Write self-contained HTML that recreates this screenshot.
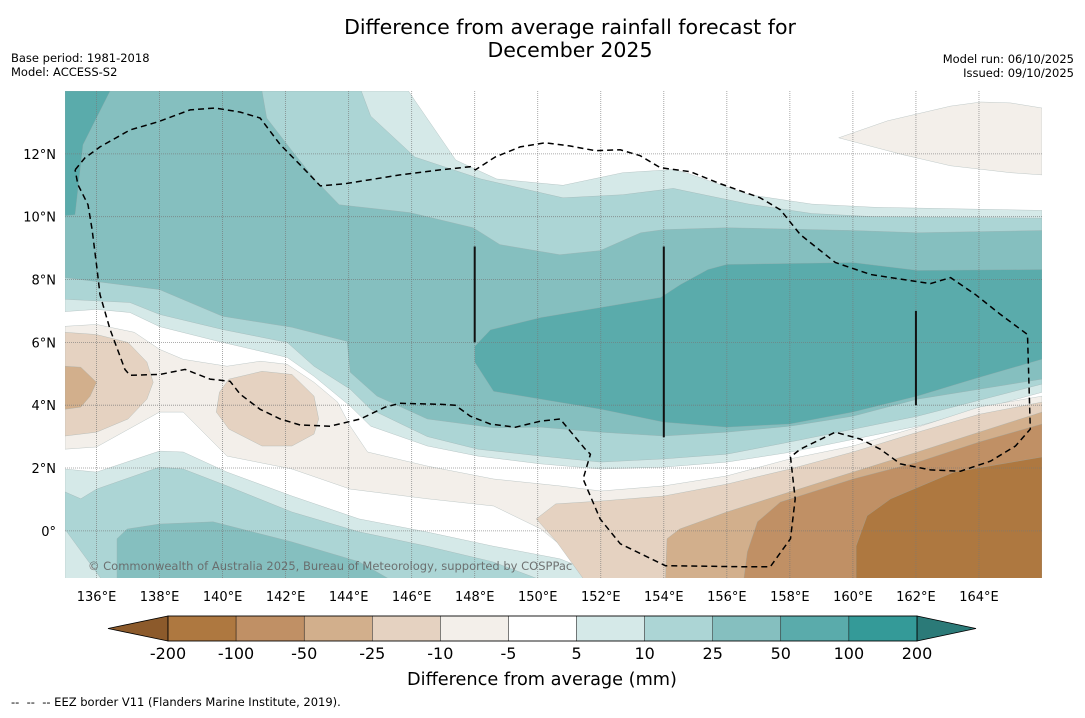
<!DOCTYPE html>
<html><head><meta charset="utf-8"><style>
html,body{margin:0;padding:0;background:#fff;}
body{width:1085px;height:713px;overflow:hidden;font-family:"Liberation Sans","DejaVu Sans",sans-serif;}
svg text{font-family:"DejaVu Sans","Liberation Sans",sans-serif;}
</style></head><body>
<svg id="chart" width="1085" height="713" viewBox="0 0 1085 713" xmlns="http://www.w3.org/2000/svg">
<text x="570" y="34" font-size="20.5" text-anchor="middle" fill="#000">Difference from average rainfall forecast for</text>
<text x="570" y="57" font-size="20.5" text-anchor="middle" fill="#000">December 2025</text>
<text x="11" y="62" font-size="11.5">Base period: 1981-2018</text>
<text x="11" y="76" font-size="11.5">Model: ACCESS-S2</text>
<text x="1074" y="63" font-size="11.5" text-anchor="end">Model run: 06/10/2025</text>
<text x="1074" y="77" font-size="11.5" text-anchor="end">Issued: 09/10/2025</text>
<defs><clipPath id="mapclip"><rect x="65" y="91" width="977" height="487"/></clipPath></defs>
<g id="map" clip-path="url(#mapclip)">
<rect x="65" y="91" width="977" height="487" fill="#ffffff"/>
<g id="contours"></g><g id="grid"></g><g id="eez"></g>
<text x="88" y="570" font-size="11.5" fill="#666" opacity="0.9">© Commonwealth of Australia 2025, Bureau of Meteorology, supported by COSPPac</text>
</g>
<g id="axes"></g>
<g id="colorbar"></g>
<text x="542" y="685" font-size="17.7" text-anchor="middle">Difference from average (mm)</text>
<text x="11" y="706" font-size="11.5" xml:space="preserve">--  --  -- EEZ border V11 (Flanders Marine Institute, 2019).</text>
</svg>
<script>
// axis domain
const lonMin = 135, lonMax = 166, latMin = -1.5, latMax = 14;
const lonTicks = [136,138,140,142,144,146,148,150,152,154,156,158,160,162,164];
const latTicks = [0,2,4,6,8,10,12];
const cbLevels = ["-200","-100","-50","-25","-10","-5","5","10","25","50","100","200"];
const cbColors = ["#ae7840","#c09065","#d2af8c","#e5d2c1","#f3efea","#ffffff","#d5e9e8","#acd5d5","#85bfbf","#5aabab","#349a98"];
const cbLowExt = "#8c5a2b", cbHighExt = "#2b7a78";
// contour polygons [lon,lat]
const tealLight5 = [[135,14],[145.9,14],[146.1,13.7],[147.4,11.8],[148.7,11.2],[150.8,11.0],[152.7,11.4],[154.3,11.5],[154.7,11.4],[156.7,10.7],[158.7,10.4],[160.7,10.3],[166,10.2],[166,4.41],[162.05,3.33],[158,2.5],[156,2.19],[154,2.03],[152,1.97],[150.1,2.13],[148.1,2.38],[146.5,2.7],[144.7,3.33],[144.05,3.97],[142.9,4.92],[142.05,5.52],[140,6.0],[138,6.5],[137.06,6.95],[136,7.05],[135,6.98]];
const teal10 = [[135,14],[144.4,14],[144.7,13.2],[146.1,11.9],[148.2,11.2],[150.8,10.6],[152.7,10.7],[154.3,10.9],[156.7,10.4],[158.7,10.1],[160.7,10.0],[166,9.95],[166,4.67],[162.05,3.65],[158,2.83],[156,2.44],[154,2.29],[152,2.19],[150.1,2.38],[148.1,2.6],[146.5,3.0],[144.7,3.87],[144.05,4.51],[142.9,5.24],[142.05,6.0],[140,6.41],[138,6.89],[137.06,7.27],[135,7.37]];
const teal25 = [[135,14],[141.25,14],[141.4,13.14],[142.2,12.1],[142.97,11.14],[143.7,10.38],[145.95,10.13],[147.95,9.65],[148.8,9.11],[150.7,8.79],[151.98,8.92],[153.27,9.49],[154,9.59],[156,9.65],[160,9.56],[162.05,9.49],[166,9.56],[166,4.83],[162.05,4.19],[160,3.65],[158,3.33],[156,3.14],[154,3.02],[152,3.14],[150.1,3.3],[148.6,3.28],[146.5,3.56],[144.9,4.29],[144.05,5.05],[143.95,6.03],[142.2,6.48],[140,6.83],[138,7.68],[135,8.06]];
const teal50 = [[148,5.87],[148.5,6.4],[150.1,6.79],[153.9,7.43],[154.53,7.84],[155.4,8.32],[156,8.48],[160,8.54],[162.05,8.29],[166,8.32],[166,5.46],[163.83,4.83],[162.05,4.29],[160,3.78],[158,3.40],[156,3.30],[154,3.46],[152,3.87],[150.1,4.19],[148.6,4.44],[148,5.37]];
const teal50Corner = [[135,14],[136.43,14],[135.57,12.29],[135.32,10.06],[135,10.03]];
const swTeal5 = [[135,1.97],[136,1.87],[138,2.54],[138.75,2.51],[140.14,1.87],[142.2,1.11],[144.33,0.38],[146.46,-0.03],[148.56,-0.48],[150.7,-0.89],[152.5,-1.6],[135,-1.6]];
const swTeal10 = [[135,1.24],[135.5,1.02],[136,1.33],[138,2.03],[138.75,1.97],[140.14,1.43],[142.2,0.6],[144.33,-0.03],[146.46,-0.48],[148.56,-0.98],[150.2,-1.6],[136.2,-1.6],[135,0.05]];
const swTeal25 = [[136.65,-0.25],[136.97,0.06],[138,0.22],[139.7,0.29],[142.2,-0.35],[144.33,-0.98],[145.4,-1.6],[136.65,-1.6]];
const brownLight10 = [[135,6.51],[136,6.57],[137.2,6.32],[138,5.78],[138.75,5.46],[140.14,5.24],[141.2,5.40],[142.05,5.3],[142.9,4.73],[143.65,4.1],[144.05,3.33],[144.6,2.51],[146.5,2.06],[148.6,1.65],[150.7,1.43],[152,1.27],[154,1.43],[156,1.75],[158,2.29],[160,2.70],[162.05,3.30],[164,3.94],[166,4.29],[166,-1.6],[152.1,-1.6],[150.1,0.06],[148.6,0.79],[146.5,1.02],[144.05,1.33],[142.2,1.97],[140.14,2.38],[138.75,3.78],[138,3.78],[136,2.67],[135,2.6]];
const brownBlobA = [[135,6.32],[136,6.25],[137,6.0],[137.6,5.37],[137.8,4.73],[137.6,4.19],[137,3.56],[136,3.14],[135,3.02]];
const brownBlobAInner = [[135,5.24],[135.5,5.21],[136,4.73],[135.8,4.29],[135.5,3.94],[135,3.87]];
const brownBlobB = [[139.9,4.41],[140.2,4.83],[141.25,5.08],[142.2,4.98],[142.9,4.29],[143.05,3.56],[142.9,3.08],[142.2,2.70],[141.25,2.70],[140.2,3.24],[139.8,3.78]];
const brownEast25 = [[149.95,0.38],[150.57,0.86],[152,0.95],[154,1.11],[156,1.49],[158,1.97],[160,2.51],[162.05,3.14],[164,3.71],[166,4.10],[166,-1.6],[151.5,-1.6],[150.6,-0.35]];
const brownEast50 = [[154.1,-0.25],[154.5,0.06],[156,0.6],[158,1.24],[160,1.87],[162.05,2.51],[164,3.14],[166,3.78],[166,-1.6],[154.05,-1.6]];
const brownEast100 = [[156.53,-1.6],[156.65,-0.67],[156.97,0.29],[157.7,0.92],[160,1.65],[162.05,2.19],[164,2.83],[166,3.40],[166,-1.6]];
const brownEast200 = [[160.1,-1.6],[160.1,-0.48],[160.45,0.48],[161.2,1.02],[163.2,1.87],[166,2.35],[166,-1.6]];
const brownNE = [[159.55,12.51],[161.1,13.05],[163.1,13.52],[164.06,13.65],[165,13.62],[166,13.46],[166,11.33],[165,11.4],[163.1,11.62],[161.6,11.97]];
const eezPath = [[135.32,11.49],[135.63,11.87],[136.11,12.22],[137.06,12.76],[137.95,13.02],[138.97,13.40],[139.76,13.46],[140.56,13.33],[141.19,13.14],[141.83,12.29],[142.46,11.65],[143.10,10.98],[143.89,11.05],[145.63,11.33],[146.90,11.49],[147.86,11.59],[148.02,11.49],[148.65,11.90],[149.44,12.22],[150.24,12.35],[151.03,12.25],[151.83,12.10],[152.62,12.13],[153.25,11.94],[153.89,11.56],[154.84,11.43],[155.79,11.05],[157.06,10.60],[157.70,10.22],[158.33,9.43],[159.44,8.54],[160.56,8.16],[162.46,7.87],[163.10,8.06],[163.89,7.52],[164.68,6.89],[165.54,6.25],[165.63,3.24],[165.16,2.70],[164.37,2.22],[163.41,1.90],[162.46,1.94],[161.51,2.13],[160.87,2.60],[160.24,2.92],[159.44,3.14],[158.33,2.60],[158.02,2.35],[158.17,1.02],[158.02,-0.25],[157.38,-1.14],[156.43,-1.14],[154.05,-1.11],[152.62,-0.41],[151.98,0.38],[151.44,1.65],[151.67,2.44],[151.51,2.60],[150.71,3.56],[150.08,3.49],[149.29,3.30],[148.49,3.40],[147.86,3.65],[147.38,4.00],[146.90,4.03],[145.63,4.06],[145.16,3.94],[144.37,3.56],[143.41,3.33],[142.46,3.37],[141.83,3.56],[141.19,3.87],[140.56,4.35],[140.24,4.76],[139.60,4.83],[138.81,5.14],[138.02,4.98],[137.06,4.95],[136.90,5.14],[136.43,6.41],[136.11,7.52],[136.02,8.32],[135.86,9.59],[135.73,10.38],[135.41,11.02],[135.32,11.49]];
const boundaryLines = [[148,9.05,6.0],[154,9.05,2.98],[162,7.0,4.0]];

const X0=65, X1=1042, Y0=91, Y1=578;
function xs(lon){return X0+(lon-lonMin)/(lonMax-lonMin)*(X1-X0);}
function ys(lat){return Y0+(latMax-lat)/(latMax-latMin)*(Y1-Y0);}
const NS="http://www.w3.org/2000/svg";
function mk(tag,attrs,parent){const e=document.createElementNS(NS,tag);for(const k in attrs)e.setAttribute(k,attrs[k]);parent.appendChild(e);return e;}
function pts(arr){return arr.map(p=>xs(p[0]).toFixed(1)+","+ys(p[1]).toFixed(1)).join(" ");}

const cg=document.getElementById("contours");
const layers=[
 [tealLight5,cbColors[6],"contour-5-10-north"],
 [teal10,cbColors[7],"contour-10-25-north"],
 [teal25,cbColors[8],"contour-25-50-north"],
 [teal50,cbColors[9],"contour-50-100-central"],
 [teal50Corner,cbColors[9],"contour-50-100-northwest"],
 [swTeal5,cbColors[6],"contour-5-10-southwest"],
 [swTeal10,cbColors[7],"contour-10-25-southwest"],
 [swTeal25,cbColors[8],"contour-25-50-southwest"],
 [brownLight10,cbColors[4],"contour-minus5-minus10"],
 [brownBlobA,cbColors[3],"contour-minus10-minus25-west"],
 [brownBlobAInner,cbColors[2],"contour-minus25-minus50-west"],
 [brownBlobB,cbColors[3],"contour-minus10-minus25-central"],
 [brownEast25,cbColors[3],"contour-minus10-minus25-east"],
 [brownEast50,cbColors[2],"contour-minus25-minus50-east"],
 [brownEast100,cbColors[1],"contour-minus50-minus100-east"],
 [brownEast200,cbColors[0],"contour-minus100-minus200-east"],
 [brownNE,cbColors[4],"contour-minus5-minus10-northeast"]
];
for(const L of layers){
 const p=mk("polygon",{points:pts(L[0]),fill:L[1],stroke:"#9aa",["stroke-width"]:"0.3"},cg);
 
 
}
const gg=document.getElementById("grid");
for(const lon of lonTicks){
 const l=mk("line",{x1:xs(lon),x2:xs(lon),y1:Y0,y2:Y1,stroke:"#777","stroke-width":"0.8","stroke-dasharray":"1,1",opacity:"0.8"},gg);
 
 
}
for(const lat of latTicks){
 const l=mk("line",{x1:X0,x2:X1,y1:ys(lat),y2:ys(lat),stroke:"#777","stroke-width":"0.8","stroke-dasharray":"1,1",opacity:"0.8"},gg);
 
 
}
const eg=document.getElementById("eez");
const ez=mk("polyline",{points:pts(eezPath),fill:"none",stroke:"#000","stroke-width":"1.5","stroke-dasharray":"6,4"},eg);


for(const b of boundaryLines){
 const l=mk("line",{x1:xs(b[0]),x2:xs(b[0]),y1:ys(b[1]),y2:ys(b[2]),stroke:"#111","stroke-width":"2"},eg);
 
 
}
const ag=document.getElementById("axes");
for(const lon of lonTicks){
 const t=mk("text",{x:xs(lon),y:Y1+23,"font-size":"13","text-anchor":"middle"},ag);
 t.textContent=lon+"°E";
 
 
}
for(const lat of latTicks){
 const t=mk("text",{x:X0-9,y:ys(lat)+5,"font-size":"13","text-anchor":"end"},ag);
 t.textContent=lat===0?"0°":lat+"°N";
 
 
}
const cb=document.getElementById("colorbar");
const cbX0=168, cbX1=917, cbY=616, cbH=25, w=(cbX1-cbX0)/cbColors.length;
const lt=mk("polygon",{points:`108,${cbY+cbH/2} ${cbX0},${cbY} ${cbX0},${cbY+cbH}`,fill:cbLowExt,stroke:"#000","stroke-width":"0.8"},cb);


const rt=mk("polygon",{points:`976,${cbY+cbH/2} ${cbX1},${cbY} ${cbX1},${cbY+cbH}`,fill:cbHighExt,stroke:"#000","stroke-width":"0.8"},cb);


cbColors.forEach((c,i)=>{
 const r=mk("rect",{x:cbX0+i*w,y:cbY,width:w,height:cbH,fill:c,stroke:"#000","stroke-width":"0.4"},cb);
 
 
});
mk("rect",{x:cbX0,y:cbY,width:cbX1-cbX0,height:cbH,fill:"none",stroke:"#000","stroke-width":"0.8"},cb);
cbLevels.forEach((s,i)=>{
 const t=mk("text",{x:cbX0+i*w,y:cbY+cbH+18,"font-size":"16","text-anchor":"middle"},cb);
 t.textContent=s;
 
 
});
</script>
</body></html>
